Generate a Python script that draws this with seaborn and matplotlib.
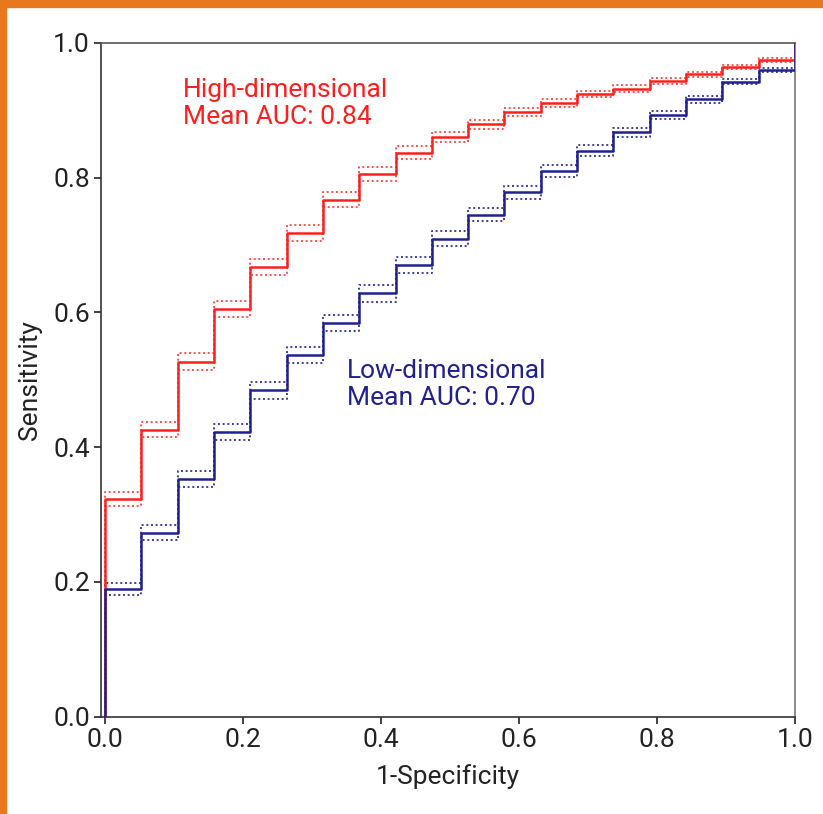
import matplotlib
matplotlib.use("Agg")
import matplotlib.pyplot as plt
from matplotlib.patches import Rectangle
import seaborn as sns
import pandas as pd

# ---- data ----
fpr = [0.0, 0.0, 0.0526, 0.1053, 0.1579, 0.2105, 0.2632, 0.3158, 0.3684, 0.4211,
       0.4737, 0.5263, 0.5789, 0.6316, 0.6842, 0.7368, 0.7895, 0.8421, 0.8947,
       0.9474, 1.0]

high_mean = [0.0, 0.323, 0.426, 0.527, 0.605, 0.667, 0.718, 0.767, 0.805, 0.837, 0.860,
             0.879, 0.897, 0.910, 0.924, 0.932, 0.943, 0.953, 0.964, 0.974, 1.0]
high_upper = [0.0, 0.333, 0.437, 0.539, 0.617, 0.679, 0.730, 0.778, 0.815, 0.846, 0.868,
              0.886, 0.903, 0.916, 0.929, 0.937, 0.947, 0.957, 0.967, 0.977, 1.0]
high_lower = [0.0, 0.313, 0.415, 0.515, 0.593, 0.655, 0.706, 0.756, 0.795, 0.828, 0.852,
              0.872, 0.891, 0.904, 0.919, 0.927, 0.939, 0.949, 0.961, 0.971, 1.0]

low_mean = [0.0, 0.190, 0.273, 0.353, 0.422, 0.484, 0.537, 0.584, 0.628, 0.670, 0.709,
            0.745, 0.778, 0.810, 0.840, 0.867, 0.893, 0.916, 0.942, 0.959, 1.0]
low_upper = [0.0, 0.199, 0.284, 0.365, 0.434, 0.496, 0.549, 0.596, 0.640, 0.682, 0.720,
             0.755, 0.788, 0.819, 0.848, 0.874, 0.899, 0.921, 0.946, 0.962, 1.0]
low_lower = [0.0, 0.181, 0.262, 0.341, 0.410, 0.472, 0.525, 0.572, 0.616, 0.658, 0.698,
             0.735, 0.768, 0.801, 0.832, 0.860, 0.887, 0.911, 0.938, 0.956, 1.0]

ticks = [0.0, 0.2, 0.4, 0.6, 0.8, 1.0]
tick_labels = ["0.0", "0.2", "0.4", "0.6", "0.8", "1.0"]

high_label = "High-dimensional\nMean AUC: 0.84"
low_label = "Low-dimensional\nMean AUC: 0.70"

RED = "#ff1e1e"
RED_LIGHT = "#ff5050"
BLUE = "#20208f"
BLUE_LIGHT = "#3c3ca0"

sns.set_style("ticks")
plt.rcParams["font.family"] = ["Roboto", "DejaVu Sans"]

fig = plt.figure(figsize=(8.23, 8.14), dpi=100)
ax = fig.add_axes([101 / 823, 1 - 716.7 / 814, 694 / 823, (716.7 - 42.7) / 814])

def step(y, color, style, lw, z):
    df = pd.DataFrame({"fpr": fpr, "tpr": y})
    sns.lineplot(data=df, x="fpr", y="tpr", estimator=None, sort=False,
                 drawstyle="steps-post", color=color, linestyle=style,
                 linewidth=lw, ax=ax, zorder=z)

dot = (0, (1, 1.4))
step(high_upper, RED_LIGHT, dot, 1.4, 2)
step(high_lower, RED_LIGHT, dot, 1.4, 2)
step(low_upper, BLUE_LIGHT, dot, 1.4, 2.5)
step(low_lower, BLUE_LIGHT, dot, 1.4, 2.5)
step(high_mean, RED, "-", 1.8, 3)
step(low_mean, BLUE, "-", 1.8, 3.5)

ax.set_xlim(-0.006, 1.0)
ax.set_ylim(0.0, 1.0)
ax.set_xticks(ticks)
ax.set_xticklabels(tick_labels)
ax.set_yticks(ticks)
ax.set_yticklabels(tick_labels)
ax.tick_params(axis="both", labelsize=19, length=5, width=1.2, color="#222222",
               labelcolor="#222222", pad=3, top=False, right=False)
for s in ax.spines.values():
    s.set_visible(True)
    s.set_color("#333333")
    s.set_linewidth(1.2)
ax.spines["right"].set_color("#777777")
ax.spines["top"].set_color("#555555")

ax.set_xlabel("1-Specificity", fontsize=19, color="#222222", labelpad=9)
ax.set_ylabel("Sensitivity", fontsize=19, color="#222222", labelpad=8)

ax.text(0.113, 0.948, high_label, color=RED, fontsize=19, va="top", ha="left",
        linespacing=1.15)
ax.text(0.351, 0.530, low_label, color=BLUE, fontsize=19, va="top", ha="left",
        linespacing=1.15)

# orange frame strips of the original slide
fig.patches.append(Rectangle((0, 0), 6 / 823, 1, transform=fig.transFigure,
                             color="#e8781e", zorder=0))
fig.patches.append(Rectangle((0, 1 - 7 / 814), 1, 7 / 814, transform=fig.transFigure,
                             color="#e8781e", zorder=0))

fig.savefig("out.png", dpi=100)
